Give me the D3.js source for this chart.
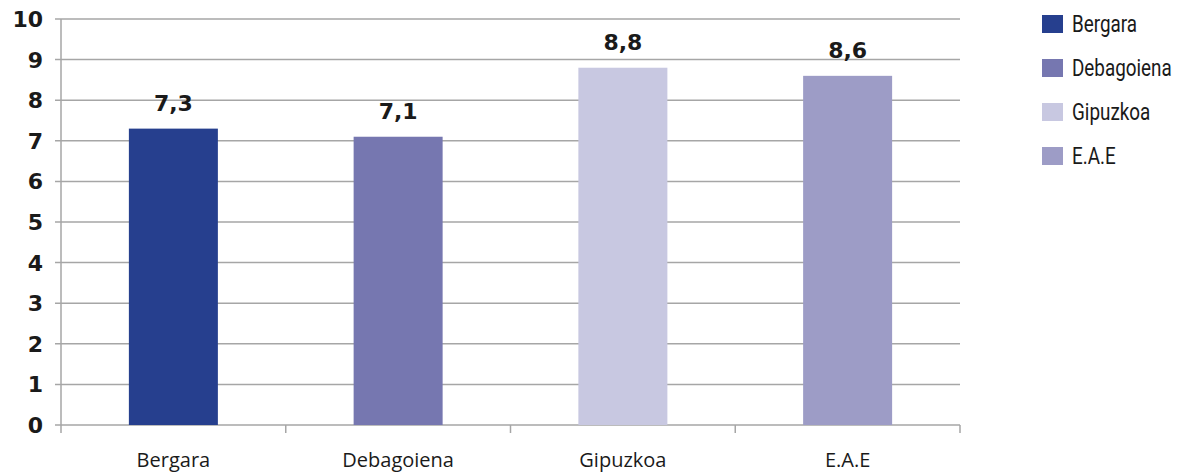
<!DOCTYPE html>
<html>
<head>
<meta charset="utf-8">
<script src="https://cdn.jsdelivr.net/npm/d3@7"></script>
<style>
  body { margin: 0; background: #fff; }
</style>
</head>
<body>
<div id="viz"></div>
<script>
var width = 1189;
var height = 473;

var categories = ["Bergara", "Debagoiena", "Gipuzkoa", "E.A.E"];
var values = [7.3, 7.1, 8.8, 8.6];
var colors = ["#263f8e", "#7677b0", "#c8c8e1", "#9d9cc6"];
var yTicks = [0, 1, 2, 3, 4, 5, 6, 7, 8, 9, 10];

var svg = d3.select("#viz")
  .append("svg")
  .attr("width", width)
  .attr("height", height);

var x = d3.scaleBand()
  .domain(categories)
  .range([61, 960])
  .paddingInner(0)
  .paddingOuter(0);

var y = d3.scaleLinear()
  .domain([0, 10])
  .range([425, 19]);

// gridlines
svg.append("g")
  .selectAll("line")
  .data(yTicks)
  .enter()
  .append("line")
  .attr("x1", 55)
  .attr("x2", 960)
  .attr("y1", function(d) { return y(d); })
  .attr("y2", function(d) { return y(d); })
  .attr("stroke", "#a6a6a6")
  .attr("stroke-width", 1.5);

// y axis line
svg.append("line")
  .attr("x1", 61).attr("x2", 61)
  .attr("y1", y(10)).attr("y2", 433)
  .attr("stroke", "#a6a6a6")
  .attr("stroke-width", 1.5);

// x tick marks at band edges
var edges = categories.map(function(c) { return x(c); }).concat([x.range()[1]]);
svg.append("g")
  .selectAll("line")
  .data(edges.slice(1))
  .enter()
  .append("line")
  .attr("x1", function(d) { return d; })
  .attr("x2", function(d) { return d; })
  .attr("y1", y(0))
  .attr("y2", 433)
  .attr("stroke", "#a6a6a6")
  .attr("stroke-width", 1.5);

// y tick labels
svg.append("g")
  .selectAll("text")
  .data(yTicks)
  .enter()
  .append("text")
  .attr("x", 43)
  .attr("y", function(d) { return y(d); })
  .attr("dy", "0.36em")
  .attr("text-anchor", "end")
  .style("font-family", "'DejaVu Sans', sans-serif")
  .style("font-weight", "bold")
  .style("font-size", "22px")
  .style("fill", "#1a1a1a")
  .text(function(d) { return d; });

// bars
var barW = 89;
svg.append("g")
  .selectAll("rect")
  .data(values)
  .enter()
  .append("rect")
  .attr("x", function(d, i) { return x(categories[i]) + x.bandwidth() / 2 - barW / 2; })
  .attr("y", function(d) { return y(d); })
  .attr("width", barW)
  .attr("height", function(d) { return y(0) - y(d); })
  .style("fill", function(d, i) { return colors[i]; });

// value labels
svg.append("g")
  .selectAll("text")
  .data(values)
  .enter()
  .append("text")
  .attr("x", function(d, i) { return x(categories[i]) + x.bandwidth() / 2; })
  .attr("y", function(d) { return y(d) - 18; })
  .attr("text-anchor", "middle")
  .style("font-family", "'DejaVu Sans', sans-serif")
  .style("font-weight", "bold")
  .style("font-size", "22px")
  .style("fill", "#1a1a1a")
  .text(function(d) { return d.toFixed(1).replace(".", ","); });

// x labels
svg.append("g")
  .selectAll("text")
  .data(categories)
  .enter()
  .append("text")
  .attr("x", function(d) { return x(d) + x.bandwidth() / 2; })
  .attr("y", 467)
  .attr("text-anchor", "middle")
  .style("font-family", "'Open Sans', sans-serif")
  .style("font-size", "20px")
  .style("fill", "#1a1a1a")
  .text(function(d) { return d; });

// legend
var legend = svg.append("g")
  .attr("transform", "translate(1042,0)");

var legenditem = legend.selectAll(".legenditem")
  .data(categories)
  .enter()
  .append("g")
  .attr("class", "legenditem")
  .attr("transform", function(d, i) { return "translate(0," + (24 + i * 44) + ")"; });

legenditem.append("rect")
  .attr("x", 0)
  .attr("y", -9)
  .attr("width", 21)
  .attr("height", 18)
  .style("fill", function(d, i) { return colors[i]; });

legenditem.append("text")
  .attr("transform", "translate(30,0) scale(0.82,1)")
  .attr("dy", "0.36em")
  .style("font-family", "'Liberation Sans Narrow', 'Roboto', sans-serif")
  .style("font-size", "23px")
  .style("fill", "#1a1a1a")
  .text(function(d) { return d; });
</script>
</body>
</html>
